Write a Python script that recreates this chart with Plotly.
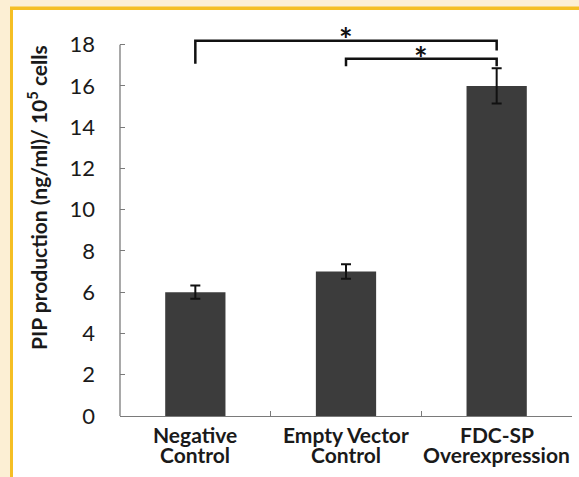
import plotly.graph_objects as go

# ---- data ----
categories = ["Negative Control", "Empty Vector Control", "FDC-SP Overexpression"]
cat_line1 = ["Negative", "Empty Vector", "FDC-SP"]
cat_line2 = ["Control", "Control", "Overexpression"]
values = [6.0, 7.0, 16.0]
errors = [0.32, 0.35, 0.85]
y_ticks = [0, 2, 4, 6, 8, 10, 12, 14, 16, 18]

# significance brackets (category index, value units)
br_x0 = [0, 1]
br_x1 = [2, 2]
br_y = [18.19, 17.31]
br_left_bottom = [17.07, 16.95]
br_right_bottom = [17.72, 16.95]
star_x = [1, 1.5]
star_y = [18.57, 17.68]

# ---- layout geometry (pixels) ----
W, H = 579, 477
ML, MR, MB, MT = 120, 7, 61, 24
PW, PH = W - ML - MR, H - MT - MB


def px_x(p):
    return (p - ML) / PW


def px_y(p):
    return (H - MB - p) / PH


fig = go.Figure()

fig.add_trace(go.Bar(
    x=list(range(len(categories))), y=values,
    marker=dict(color="#3c3c3c", line=dict(width=0)),
    error_y=dict(type="data", array=errors, color="#111111", thickness=2, width=5),
    width=0.4, hoverinfo="skip", showlegend=False,
))

for i in range(len(br_x0)):
    fig.add_trace(go.Scatter(
        x=[br_x0[i], br_x0[i], br_x1[i], br_x1[i]],
        y=[br_left_bottom[i], br_y[i], br_y[i], br_right_bottom[i]],
        mode="lines", line=dict(color="#111111", width=2.5),
        hoverinfo="skip", showlegend=False,
    ))

shapes = [
    # frame: cream background, yellow rule, white panel
    dict(type="rect", xref="paper", yref="paper", x0=px_x(0), x1=px_x(W + 5),
         y0=px_y(H + 5), y1=px_y(0), fillcolor="#fcefd4", line=dict(width=0), layer="below"),
    dict(type="rect", xref="paper", yref="paper", x0=px_x(10), x1=px_x(W + 5),
         y0=px_y(H + 5), y1=px_y(6.5), fillcolor="#f5bf24", line=dict(width=0), layer="below"),
    dict(type="rect", xref="paper", yref="paper", x0=px_x(13), x1=px_x(W + 5),
         y0=px_y(H + 5), y1=px_y(10), fillcolor="#ffffff", line=dict(width=0), layer="below"),
    # y axis line (from 0 to top tick)
    dict(type="line", xref="paper", yref="y", x0=0, x1=0, y0=0, y1=y_ticks[-1],
         line=dict(color="#7a7a7a", width=1.3)),
]

annotations = []
for xs, ys in zip(star_x, star_y):
    annotations.append(dict(x=xs, y=ys, xref="x", yref="y", text="<b>*</b>", showarrow=False,
                            font=dict(family="Lato", size=32, color="#111111"),
                            xanchor="center", yanchor="middle", yshift=-7))
for i in range(len(categories)):
    annotations.append(dict(x=i, y=px_y(434), xref="x", yref="paper", text=f"<b>{cat_line1[i]}</b>",
                            showarrow=False, font=dict(family="Lato", size=21, color="#1a1a1a"),
                            xanchor="center", yanchor="middle"))
    annotations.append(dict(x=i, y=px_y(454), xref="x", yref="paper", text=f"<b>{cat_line2[i]}</b>",
                            showarrow=False, font=dict(family="Lato", size=21, color="#1a1a1a"),
                            xanchor="center", yanchor="middle"))
annotations.append(dict(x=px_x(37), y=px_y(198), xref="paper", yref="paper",
                        text="<b>PIP production (ng/ml)/ 10<sup>5</sup> cells</b>",
                        textangle=-90, showarrow=False,
                        font=dict(family="Lato", size=21, color="#1a1a1a"),
                        xanchor="center", yanchor="middle"))

fig.update_layout(
    width=W, height=H,
    margin=dict(l=ML, r=MR, t=MT, b=MB, pad=0),
    paper_bgcolor="#ffffff", plot_bgcolor="rgba(0,0,0,0)",
    shapes=shapes, annotations=annotations,
    bargap=0.6,
    xaxis=dict(range=[-0.5, 2.5], tickvals=[-0.5, 0.5, 1.5, 2.5], showticklabels=False,
               ticks="inside", ticklen=5, tickcolor="#7a7a7a", tickwidth=1.3,
               showline=True, linecolor="#7a7a7a", linewidth=1.3,
               showgrid=False, zeroline=False, fixedrange=True),
    yaxis=dict(range=[0, 19], tickvals=y_ticks, ticktext=[str(v) for v in y_ticks],
               ticks="inside", ticklen=5, tickcolor="#7a7a7a", tickwidth=1.3,
               showline=False, showgrid=False, zeroline=False,
               tickfont=dict(family="Lato", size=22, color="#1a1a1a"),
               ticklabelstandoff=24, fixedrange=True),
)

fig.write_html("out.html", config={"displayModeBar": False})
